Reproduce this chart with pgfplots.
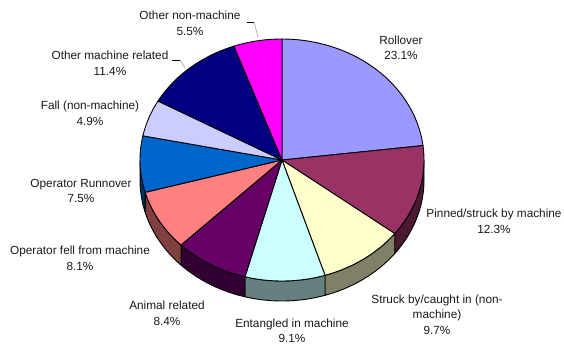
\documentclass[border=0pt]{standalone}
\usepackage{pgfplots}
\pgfplotsset{compat=1.18}
\usepackage{pgfplotstable}
\usepgfplotslibrary{fillbetween}
\usepackage{fontspec}
\setmainfont{Liberation Sans}

\definecolor{cRoll}{HTML}{9999FF}
\definecolor{cPinn}{HTML}{993366}
\definecolor{cStru}{HTML}{FFFFCC}
\definecolor{cEnta}{HTML}{CCFFFF}
\definecolor{cAnim}{HTML}{660066}
\definecolor{cOpFe}{HTML}{FF8080}
\definecolor{cOpRu}{HTML}{0066CC}
\definecolor{cFall}{HTML}{CCCCFF}
\definecolor{cOMac}{HTML}{000080}
\definecolor{cONon}{HTML}{FF00FF}

% share of fatalities by cause, in percent, clockwise from 12 o'clock
\pgfplotstableread[col sep=comma]{
share,color
23.1,cRoll
12.3,cPinn
9.7,cStru
9.1,cEnta
8.4,cAnim
8.1,cOpFe
7.5,cOpRu
4.9,cFall
11.4,cOMac
5.5,cONon
}\shares

\newcommand\lab{\fontsize{11.8}{15.5}\selectfont}

\begin{document}
\begin{tikzpicture}
\begin{axis}[scale only axis, width=564pt, height=345pt,
  xmin=0, xmax=564, ymin=0, ymax=345, y dir=reverse,
  hide axis, clip=false]

% side walls of the front slices
\xdef\cum{0}
\foreach \i in {0,...,9} {
  \pgfplotstablegetelem{\i}{share}\of\shares
  \let\val\pgfplotsretval
  \pgfplotstablegetelem{\i}{color}\of\shares
  \let\col\pgfplotsretval
  \pgfmathsetmacro\a{\cum*3.6}
  \pgfmathsetmacro\b{(\cum+\val)*3.6}
  \pgfmathsetmacro\sa{max(\a,90)}
  \pgfmathsetmacro\sb{min(\b,270)}
  \pgfmathtruncatemacro\vis{\sa<\sb}
  \ifnum\vis=1
    \edef\tmp{%
      \noexpand\addplot[draw=none, name path=up\i, domain=\sa:\sb, samples=30]
        ({282+142*sin(x)},{160-121*cos(x)});
      \noexpand\addplot[draw=none, name path=lo\i, domain=\sa:\sb, samples=30]
        ({282+142*sin(x)},{180-121*cos(x)});
      \noexpand\addplot[fill=\col!50!black, draw=black, line width=0.9pt]
        fill between[of=up\i\space and lo\i];
    }\tmp
  \fi
  \pgfmathsetmacro\newcum{\cum+\val}
  \xdef\cum{\newcum}
}

% top faces
\xdef\cum{0}
\foreach \i in {0,...,9} {
  \pgfplotstablegetelem{\i}{share}\of\shares
  \let\val\pgfplotsretval
  \pgfplotstablegetelem{\i}{color}\of\shares
  \let\col\pgfplotsretval
  \pgfmathsetmacro\a{\cum*3.6}
  \pgfmathsetmacro\b{(\cum+\val)*3.6}
  \edef\tmp{%
    \noexpand\addplot[fill=\col, draw=black, line width=0.9pt, line join=round,
      domain=\a:\b, samples=40]
      ({282+142*sin(x)},{160-121*cos(x)}) -- (axis cs:282,160) -- cycle;
  }\tmp
  \pgfmathsetmacro\newcum{\cum+\val}
  \xdef\cum{\newcum}
}

% leader lines
\draw[black, line width=0.7pt] (axis cs:247,22) -- (axis cs:254,22);
\draw[gray!70, line width=0.6pt] (axis cs:254,22) -- (axis cs:258,37);
\draw[black, line width=0.7pt] (axis cs:172,60) -- (axis cs:180,60);
\draw[gray!70, line width=0.6pt] (axis cs:180,60) -- (axis cs:185,68);

% labels
\begin{scope}[every node/.style={align=center, font=\lab, inner sep=0pt, text=black!90}]
\node at (axis cs:401,48) {Rollover\\23.1\%};
\node at (axis cs:494,221.5) {Pinned/struck by machine\\12.3\%};
\node at (axis cs:437,314.5) {Struck by/caught in (non-\\machine)\\9.7\%};
\node at (axis cs:292,331) {Entangled in machine\\9.1\%};
\node at (axis cs:167,313.5) {Animal related\\8.4\%};
\node at (axis cs:80,258.5) {Operator fell from machine\\8.1\%};
\node at (axis cs:81,191) {Operator Runnover\\7.5\%};
\node at (axis cs:90,113.5) {Fall (non-machine)\\4.9\%};
\node at (axis cs:110,63.5) {Other machine related\\11.4\%};
\node at (axis cs:190,23.5) {Other non-machine\\5.5\%};
\end{scope}
\end{axis}
\pgfresetboundingbox
\path (current axis.south west) rectangle (current axis.north east);
\end{tikzpicture}
\end{document}
